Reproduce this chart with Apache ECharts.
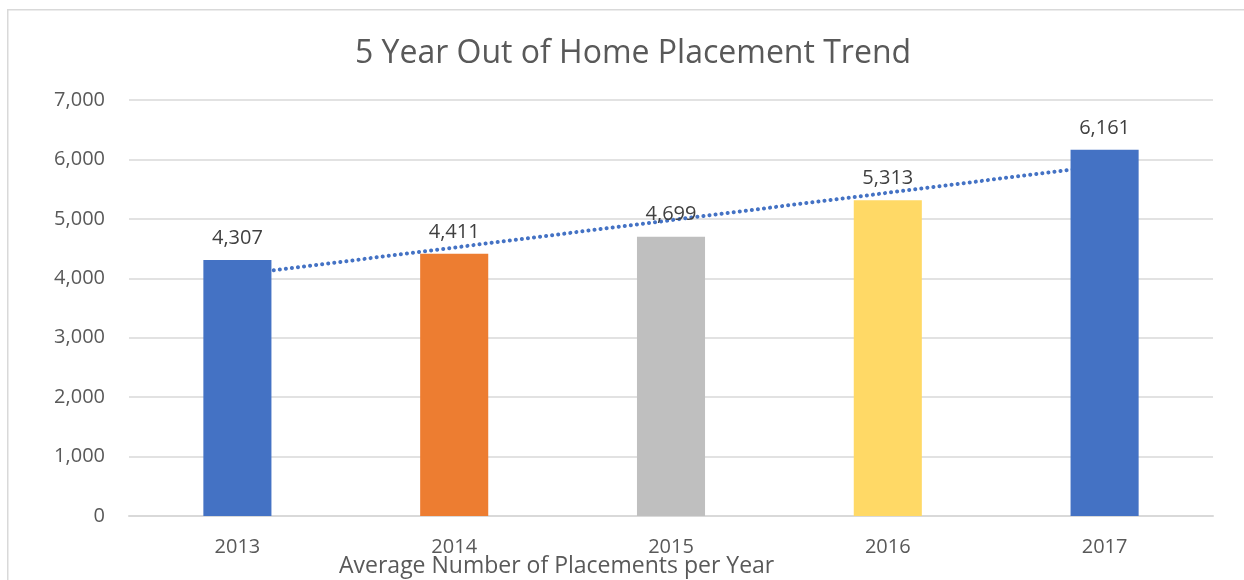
<!DOCTYPE html>
<html>
<head>
<meta charset="utf-8">
<script src="https://cdn.jsdelivr.net/npm/echarts@6/dist/echarts.min.js"></script>
<style>
html,body{margin:0;padding:0;background:#fff;}
#chart{width:1244px;height:580px;}
</style>
</head>
<body>
<div id="chart"></div>
<script>
const categories = ['2013', '2014', '2015', '2016', '2017'];
const placements = [4307, 4411, 4699, 5313, 6161];
const barColors = ['#4472C4', '#ED7D31', '#BFBFBF', '#FFD966', '#4472C4'];
const yTicks = [0, 1000, 2000, 3000, 4000, 5000, 6000, 7000];

// Linear trend line (least squares) computed from the data, as Excel does
const n = placements.length;
const xs = placements.map((_, i) => i + 1);
const mx = xs.reduce((a, b) => a + b, 0) / n;
const my = placements.reduce((a, b) => a + b, 0) / n;
let sxy = 0, sxx = 0;
for (let i = 0; i < n; i++) { sxy += (xs[i] - mx) * (placements[i] - my); sxx += (xs[i] - mx) * (xs[i] - mx); }
const slope = sxy / sxx;
const trend = xs.map(x => my + slope * (x - mx));

const font = '"Open Sans", "Noto Sans", sans-serif';
const chart = echarts.init(document.getElementById('chart'));
chart.setOption({
  animation: false,
  textStyle: { fontFamily: font },
  title: [
    {
      text: '5 Year Out of Home Placement Trend',
      left: 628, top: 33, textAlign: 'center',
      textStyle: { fontFamily: font, fontSize: 32, fontWeight: 'normal', color: '#595959' }
    },
    {
      text: 'Average Number of Placements per Year',
      left: 334, top: 550,
      textStyle: { fontFamily: font, fontSize: 23, fontWeight: 'normal', color: '#595959' }
    }
  ],
  graphic: [{
    type: 'rect', left: 7, top: 9, z: -1,
    shape: { width: 1250, height: 590 },
    style: { fill: '#fff', stroke: '#D9D9D9', lineWidth: 1.5 }
  }],
  grid: { left: 129, right: 31, top: 100, bottom: 64 },
  xAxis: {
    type: 'category',
    data: categories,
    axisTick: { show: false },
    axisLine: { lineStyle: { color: '#D9D9D9', width: 2 } },
    axisLabel: { color: '#595959', fontSize: 20, margin: 21, fontFamily: font }
  },
  yAxis: {
    type: 'value',
    min: yTicks[0], max: yTicks[yTicks.length - 1], interval: 1000,
    axisLine: { show: false },
    axisTick: { show: false },
    splitLine: { lineStyle: { color: '#D9D9D9', width: 1.5 } },
    axisLabel: {
      color: '#595959', fontSize: 20, margin: 24, fontFamily: font,
      formatter: v => v.toLocaleString('en-US')
    }
  },
  series: [
    {
      type: 'bar',
      z: 3,
      barWidth: '31.4%',
      data: placements.map((v, i) => ({ value: v, itemStyle: { color: barColors[i] } })),
      label: {
        show: true, position: 'top', distance: 12,
        color: '#404040', fontSize: 20, fontFamily: font,
        formatter: p => p.value.toLocaleString('en-US')
      }
    },
    {
      type: 'line',
      z: 2,
      data: trend,
      symbol: 'none',
      silent: true,
      lineStyle: { color: '#4472C4', width: 4, type: [0.1, 6], cap: 'round' }
    }
  ]
});
</script>
</body>
</html>
